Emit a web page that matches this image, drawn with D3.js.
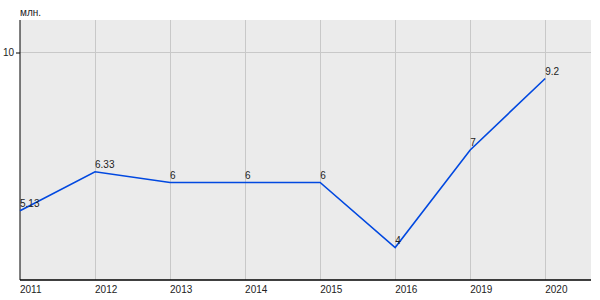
<!DOCTYPE html>
<html>
<head>
<meta charset="utf-8">
<script src="https://cdn.jsdelivr.net/npm/d3@7"></script>
<style>
  body { margin: 0; background: #fff; }
  text { font-family: "Liberation Sans", Arial, sans-serif; font-size: 10px; fill: #222; }
</style>
</head>
<body>
<svg id="chart" width="600" height="300"></svg>
<script>
// --- Données ---
const years = ["2011", "2012", "2013", "2014", "2015", "2016", "2019", "2020"];
const values = [5.13, 6.33, 6, 6, 6, 4, 7, 9.2];
const yTicks = [10];
const unitLabel = "млн.";

const svg = d3.select("#chart");
const margin = {top: 20, right: 9, bottom: 20, left: 20};
const width = 600 - margin.left - margin.right;
const height = 300 - margin.top - margin.bottom;

const g = svg.append("g").attr("transform", `translate(${margin.left},${margin.top})`);

// Échelles
const x = d3.scaleLinear().domain([0, 7.61]).range([0, width]);
const y = d3.scaleLinear().domain([3, 11]).range([height, 0]);

// Fond
g.append("rect").attr("width", width).attr("height", height).attr("fill", "#ebebeb");

// Grille verticale
g.append("g").selectAll("line")
    .data(years.slice(1))
    .join("line")
    .attr("x1", (d, i) => x(i + 1)).attr("x2", (d, i) => x(i + 1))
    .attr("y1", 0).attr("y2", height)
    .attr("stroke", "#c8c8c8").attr("shape-rendering", "crispEdges");

// Grille horizontale
g.append("g").selectAll("line")
    .data(yTicks)
    .join("line")
    .attr("x1", 0).attr("x2", width)
    .attr("y1", d => y(d)).attr("y2", d => y(d))
    .attr("stroke", "#c8c8c8").attr("shape-rendering", "crispEdges");

// Axe Y
const yAxis = g.append("g")
    .call(d3.axisLeft(y).tickValues(yTicks).tickSize(4).tickPadding(2).tickFormat(d3.format("d")));
yAxis.select(".domain").attr("stroke", "#000").attr("d", `M0,0V${height}`);
yAxis.selectAll(".tick line").attr("stroke", "#000");
yAxis.selectAll("text").attr("fill", "#222");
yAxis.attr("font-family", null).attr("font-size", null);

// Axe X
const xAxis = g.append("g").attr("transform", `translate(0,${height})`);
xAxis.append("line").attr("x1", 0).attr("x2", width).attr("stroke", "#000").attr("stroke-width", 1.5);
xAxis.selectAll("text")
    .data(years)
    .join("text")
    .attr("x", (d, i) => x(i))
    .attr("y", 13)
    .text(d => d);

// Unité
svg.append("text").attr("x", margin.left).attr("y", 16).text(unitLabel);

// Ligne
const line = d3.line().x((d, i) => x(i)).y(d => y(d));
g.append("path")
    .datum(values)
    .attr("fill", "none")
    .attr("stroke", "#0048e0")
    .attr("stroke-width", 1.6)
    .attr("d", line);

// Étiquettes de valeur
g.append("g").selectAll("text")
    .data(values)
    .join("text")
    .attr("x", (d, i) => x(i))
    .attr("y", d => y(d) - 4)
    .text(d => d);
</script>
</body>
</html>
